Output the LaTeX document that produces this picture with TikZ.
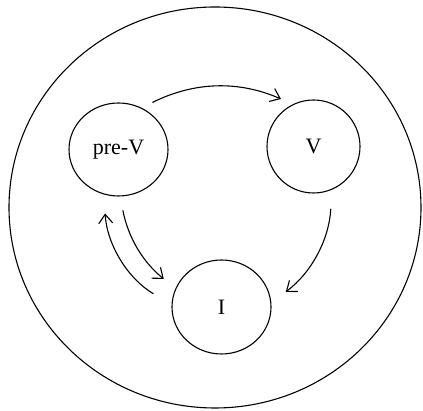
\documentclass[tikz,border=0pt]{standalone}
\usepackage{fontspec}
\setmainfont{Liberation Serif}
\usetikzlibrary{arrows.meta, shapes.geometric}

\tikzset{
  state/.style={ellipse, draw, line width=0.55pt, inner sep=0pt,
    font=\fontsize{11}{13}\selectfont},
  flow/.style={line width=0.55pt, -{Straight Barb[length=4.5pt,width=7pt]}},
}

\begin{document}
\begin{tikzpicture}[x=0.5pt, y=0.5pt]
  \useasboundingbox (0,0) rectangle (423,411);
  % outer boundary
  \draw[line width=0.55pt] (215,203.5) ellipse (206 and 200.5);

  % the three states
  \node[state, minimum width=49.5pt, minimum height=46.5pt] (preV) at (118.5,261.5) {pre-V};
  \node[state, minimum width=46.5pt, minimum height=46.5pt] (V) at (313.5,264.5) {V};
  \node[state, minimum width=49.5pt, minimum height=47pt] (I) at (221.5,104) {I};

  % transitions
  \draw[flow, shorten <=6pt, shorten >=6.5pt] (preV.61) to[bend left=25] (V.116);
  \draw[flow, shorten <=9.5pt, shorten >=9pt] (V.-67) to[bend left=25] (I.5);
  \draw[flow, shorten <=7pt, shorten >=7.5pt] (preV.-88) to[bend right=20] (I.158);
  \draw[flow, shorten <=10.5pt, shorten >=9.5pt] (I.177) to[bend left=28] (preV.-108);
\end{tikzpicture}
\end{document}
